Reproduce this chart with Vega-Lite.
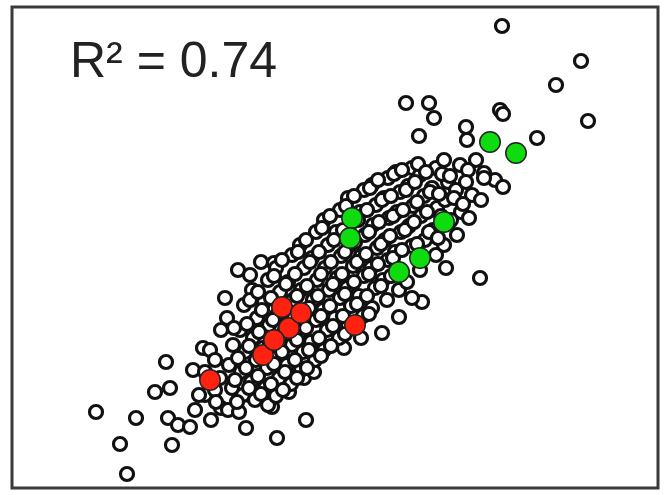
{
  "$schema": "https://vega.github.io/schema/vega-lite/v6.json",
  "width": 646,
  "height": 481,
  "autosize": "none",
  "padding": {"left": 12, "top": 7, "right": 7, "bottom": 7},
  "background": "white",
  "config": {"view": {"stroke": "#3a3a3a", "strokeWidth": 3}},
  "datasets": {
    "pts": [
      {"x": 49.0, "y": 46.2, "g": "gray"}, {"x": 56.9, "y": 42.7, "g": "gray"}, {"x": 54.4, "y": 40.3, "g": "gray"}, {"x": 57.6, "y": 36.7, "g": "gray"},
      {"x": 39.4, "y": 38.5, "g": "gray"}, {"x": 41.7, "y": 38.5, "g": "gray"}, {"x": 42.2, "y": 37.0, "g": "gray"}, {"x": 40.7, "y": 35.2, "g": "gray"},
      {"x": 48.8, "y": 37.8, "g": "gray"}, {"x": 49.1, "y": 37.4, "g": "gray"}, {"x": 45.4, "y": 36.1, "g": "gray"}, {"x": 45.5, "y": 34.8, "g": "gray"},
      {"x": 52.5, "y": 35.0, "g": "gray"}, {"x": 47.2, "y": 31.5, "g": "gray"}, {"x": 48.3, "y": 30.8, "g": "gray"}, {"x": 49.1, "y": 30.1, "g": "gray"},
      {"x": 46.4, "y": 32.8, "g": "gray"}, {"x": 8.4, "y": 7.6, "g": "gray"}, {"x": 12.4, "y": 7.0, "g": "gray"}, {"x": 10.8, "y": 4.4, "g": "gray"},
      {"x": 11.5, "y": 1.4, "g": "gray"}, {"x": 15.4, "y": 12.6, "g": "gray"}, {"x": 14.3, "y": 9.6, "g": "gray"}, {"x": 15.8, "y": 10.0, "g": "gray"},
      {"x": 15.6, "y": 7.0, "g": "gray"}, {"x": 16.6, "y": 6.3, "g": "gray"}, {"x": 17.8, "y": 6.1, "g": "gray"}, {"x": 16.0, "y": 4.3, "g": "gray"},
      {"x": 19.1, "y": 14.0, "g": "gray"}, {"x": 20.9, "y": 8.0, "g": "gray"}, {"x": 23.4, "y": 6.0, "g": "gray"}, {"x": 26.5, "y": 5.0, "g": "gray"},
      {"x": 29.4, "y": 6.8, "g": "gray"}, {"x": 46.8, "y": 21.0, "g": "gray"}, {"x": 43.4, "y": 22.0, "g": "gray"}, {"x": 21.3, "y": 19.0, "g": "gray"},
      {"x": 22.6, "y": 21.8, "g": "gray"}, {"x": 23.8, "y": 21.3, "g": "gray"}, {"x": 24.9, "y": 22.6, "g": "gray"}, {"x": 26.2, "y": 22.5, "g": "gray"},
      {"x": 37.0, "y": 15.5, "g": "gray"}, {"x": 38.7, "y": 17.1, "g": "gray"}, {"x": 41.0, "y": 18.6, "g": "gray"}, {"x": 40.0, "y": 19.0, "g": "gray"},
      {"x": 33.2, "y": 14.0, "g": "gray"}, {"x": 29.2, "y": 11.0, "g": "gray"}, {"x": 30.2, "y": 11.6, "g": "gray"}, {"x": 27.7, "y": 9.6, "g": "gray"},
      {"x": 24.9, "y": 9.0, "g": "gray"}, {"x": 26.0, "y": 8.1, "g": "gray"}, {"x": 23.8, "y": 9.3, "g": "gray"}, {"x": 19.3, "y": 9.3, "g": "gray"},
      {"x": 20.3, "y": 9.8, "g": "gray"},
      {"x": 18.1, "y": 11.8, "g": "gray"}, {"x": 18.7, "y": 9.3, "g": "gray"}, {"x": 18.3, "y": 7.8, "g": "gray"},
      {"x": 19.8, "y": 13.8, "g": "gray"}, {"x": 19.3, "y": 11.6, "g": "gray"}, {"x": 19.9, "y": 6.8, "g": "gray"},
      {"x": 20.9, "y": 15.8, "g": "gray"}, {"x": 20.3, "y": 12.8, "g": "gray"}, {"x": 20.8, "y": 11.0, "g": "gray"}, {"x": 20.4, "y": 8.6, "g": "gray"},
      {"x": 21.5, "y": 17.0, "g": "gray"}, {"x": 22.1, "y": 14.3, "g": "gray"}, {"x": 21.7, "y": 12.3, "g": "gray"}, {"x": 22.0, "y": 10.0, "g": "gray"}, {"x": 21.6, "y": 7.8, "g": "gray"},
      {"x": 23.2, "y": 18.3, "g": "gray"}, {"x": 22.8, "y": 15.8, "g": "gray"}, {"x": 23.3, "y": 13.6, "g": "gray"}, {"x": 22.9, "y": 11.6, "g": "gray"}, {"x": 23.1, "y": 9.3, "g": "gray"}, {"x": 22.7, "y": 7.6, "g": "gray"},
      {"x": 24.0, "y": 19.8, "g": "gray"}, {"x": 24.5, "y": 17.0, "g": "gray"}, {"x": 24.1, "y": 15.0, "g": "gray"}, {"x": 24.4, "y": 12.8, "g": "gray"}, {"x": 23.9, "y": 10.6, "g": "gray"}, {"x": 24.3, "y": 8.8, "g": "gray"},
      {"x": 25.6, "y": 20.8, "g": "gray"}, {"x": 25.2, "y": 18.6, "g": "gray"}, {"x": 25.7, "y": 16.3, "g": "gray"}, {"x": 25.1, "y": 14.0, "g": "gray"}, {"x": 25.5, "y": 12.0, "g": "gray"}, {"x": 25.3, "y": 10.0, "g": "gray"}, {"x": 25.6, "y": 8.3, "g": "gray"},
      {"x": 26.4, "y": 22.0, "g": "gray"}, {"x": 26.8, "y": 19.6, "g": "gray"}, {"x": 26.5, "y": 17.3, "g": "gray"}, {"x": 26.9, "y": 15.2, "g": "gray"}, {"x": 26.3, "y": 13.0, "g": "gray"}, {"x": 26.7, "y": 11.0, "g": "gray"}, {"x": 26.4, "y": 9.2, "g": "gray"},
      {"x": 28.0, "y": 23.3, "g": "gray"}, {"x": 27.6, "y": 20.6, "g": "gray"}, {"x": 28.1, "y": 18.8, "g": "gray"}, {"x": 27.7, "y": 16.6, "g": "gray"}, {"x": 28.0, "y": 14.3, "g": "gray"}, {"x": 27.5, "y": 12.3, "g": "gray"}, {"x": 27.9, "y": 10.4, "g": "gray"},
      {"x": 28.8, "y": 24.3, "g": "gray"}, {"x": 29.2, "y": 22.0, "g": "gray"}, {"x": 28.9, "y": 19.8, "g": "gray"}, {"x": 29.3, "y": 17.6, "g": "gray"}, {"x": 28.7, "y": 15.4, "g": "gray"}, {"x": 29.1, "y": 13.6, "g": "gray"}, {"x": 28.9, "y": 11.8, "g": "gray"},
      {"x": 30.4, "y": 25.6, "g": "gray"}, {"x": 30.0, "y": 23.0, "g": "gray"}, {"x": 30.5, "y": 20.8, "g": "gray"}, {"x": 30.1, "y": 18.8, "g": "gray"}, {"x": 30.4, "y": 16.8, "g": "gray"}, {"x": 29.9, "y": 14.6, "g": "gray"}, {"x": 30.3, "y": 12.8, "g": "gray"},
      {"x": 31.2, "y": 26.8, "g": "gray"}, {"x": 31.6, "y": 24.3, "g": "gray"}, {"x": 31.3, "y": 22.0, "g": "gray"}, {"x": 31.7, "y": 19.8, "g": "gray"}, {"x": 31.1, "y": 17.8, "g": "gray"}, {"x": 31.5, "y": 15.8, "g": "gray"}, {"x": 31.2, "y": 13.8, "g": "gray"},
      {"x": 32.8, "y": 27.8, "g": "gray"}, {"x": 32.4, "y": 25.6, "g": "gray"}, {"x": 32.9, "y": 23.2, "g": "gray"}, {"x": 32.5, "y": 21.0, "g": "gray"}, {"x": 32.8, "y": 19.0, "g": "gray"}, {"x": 32.3, "y": 17.0, "g": "gray"}, {"x": 32.7, "y": 15.0, "g": "gray"},
      {"x": 33.6, "y": 29.0, "g": "gray"}, {"x": 34.0, "y": 26.6, "g": "gray"}, {"x": 33.7, "y": 24.2, "g": "gray"}, {"x": 34.1, "y": 22.2, "g": "gray"}, {"x": 33.5, "y": 20.0, "g": "gray"}, {"x": 33.9, "y": 18.2, "g": "gray"}, {"x": 33.6, "y": 16.2, "g": "gray"},
      {"x": 35.2, "y": 29.8, "g": "gray"}, {"x": 34.8, "y": 27.6, "g": "gray"}, {"x": 35.3, "y": 25.3, "g": "gray"}, {"x": 34.9, "y": 23.2, "g": "gray"}, {"x": 35.2, "y": 21.2, "g": "gray"}, {"x": 34.7, "y": 19.2, "g": "gray"}, {"x": 35.1, "y": 17.2, "g": "gray"}, {"x": 34.9, "y": 15.0, "g": "gray"},
      {"x": 36.0, "y": 30.3, "g": "gray"}, {"x": 36.4, "y": 28.3, "g": "gray"}, {"x": 36.1, "y": 26.3, "g": "gray"}, {"x": 36.5, "y": 24.0, "g": "gray"}, {"x": 35.9, "y": 22.0, "g": "gray"}, {"x": 36.3, "y": 20.0, "g": "gray"}, {"x": 36.0, "y": 18.0, "g": "gray"},
      {"x": 37.6, "y": 31.0, "g": "gray"}, {"x": 37.2, "y": 29.0, "g": "gray"}, {"x": 37.7, "y": 27.0, "g": "gray"}, {"x": 37.3, "y": 24.8, "g": "gray"}, {"x": 37.6, "y": 22.8, "g": "gray"}, {"x": 37.1, "y": 20.8, "g": "gray"}, {"x": 37.5, "y": 18.8, "g": "gray"},
      {"x": 38.4, "y": 31.6, "g": "gray"}, {"x": 38.8, "y": 29.6, "g": "gray"}, {"x": 38.5, "y": 27.6, "g": "gray"}, {"x": 38.9, "y": 25.6, "g": "gray"}, {"x": 38.3, "y": 23.6, "g": "gray"}, {"x": 38.7, "y": 19.8, "g": "gray"},
      {"x": 40.0, "y": 32.0, "g": "gray"}, {"x": 39.6, "y": 30.2, "g": "gray"}, {"x": 40.1, "y": 28.2, "g": "gray"}, {"x": 39.7, "y": 26.2, "g": "gray"}, {"x": 40.0, "y": 24.2, "g": "gray"}, {"x": 39.5, "y": 20.6, "g": "gray"},
      {"x": 40.8, "y": 31.3, "g": "gray"}, {"x": 41.2, "y": 29.2, "g": "gray"}, {"x": 40.9, "y": 27.2, "g": "gray"}, {"x": 41.3, "y": 24.8, "g": "gray"}, {"x": 40.8, "y": 21.8, "g": "gray"},
      {"x": 42.4, "y": 32.0, "g": "gray"}, {"x": 42.0, "y": 30.0, "g": "gray"}, {"x": 42.5, "y": 28.0, "g": "gray"}, {"x": 42.1, "y": 25.8, "g": "gray"}, {"x": 42.4, "y": 23.3, "g": "gray"},
      {"x": 43.2, "y": 32.8, "g": "gray"}, {"x": 43.6, "y": 30.6, "g": "gray"}, {"x": 43.3, "y": 28.8, "g": "gray"}, {"x": 43.7, "y": 26.6, "g": "gray"}, {"x": 43.2, "y": 24.3, "g": "gray"},
      {"x": 44.8, "y": 32.3, "g": "gray"}, {"x": 44.4, "y": 29.8, "g": "gray"}, {"x": 44.9, "y": 27.6, "g": "gray"}, {"x": 44.5, "y": 25.3, "g": "gray"},
      {"x": 45.6, "y": 31.8, "g": "gray"}, {"x": 46.0, "y": 29.3, "g": "gray"}, {"x": 45.7, "y": 27.0, "g": "gray"},
      {"x": 47.2, "y": 31.0, "g": "gray"}, {"x": 46.9, "y": 28.8, "g": "gray"},
      {"x": 22.2, "y": 16.0, "g": "gray"}, {"x": 22.6, "y": 13.0, "g": "gray"}, {"x": 22.3, "y": 10.8, "g": "gray"}, {"x": 22.5, "y": 8.6, "g": "gray"},
      {"x": 23.8, "y": 18.8, "g": "gray"}, {"x": 23.5, "y": 16.4, "g": "gray"}, {"x": 23.7, "y": 14.2, "g": "gray"}, {"x": 23.4, "y": 12.0, "g": "gray"}, {"x": 23.7, "y": 10.0, "g": "gray"},
      {"x": 24.6, "y": 19.6, "g": "gray"}, {"x": 25.0, "y": 17.8, "g": "gray"}, {"x": 24.7, "y": 15.6, "g": "gray"}, {"x": 25.0, "y": 13.4, "g": "gray"}, {"x": 24.6, "y": 11.2, "g": "gray"}, {"x": 24.9, "y": 9.4, "g": "gray"},
      {"x": 26.2, "y": 21.2, "g": "gray"}, {"x": 25.9, "y": 19.0, "g": "gray"}, {"x": 26.1, "y": 16.8, "g": "gray"}, {"x": 25.8, "y": 14.4, "g": "gray"}, {"x": 26.2, "y": 12.4, "g": "gray"}, {"x": 25.9, "y": 10.4, "g": "gray"},
      {"x": 27.0, "y": 22.8, "g": "gray"}, {"x": 27.4, "y": 20.4, "g": "gray"}, {"x": 27.1, "y": 18.0, "g": "gray"}, {"x": 27.3, "y": 15.8, "g": "gray"}, {"x": 27.0, "y": 13.6, "g": "gray"}, {"x": 27.3, "y": 11.6, "g": "gray"}, {"x": 27.1, "y": 9.8, "g": "gray"},
      {"x": 28.6, "y": 23.6, "g": "gray"}, {"x": 28.3, "y": 21.4, "g": "gray"}, {"x": 28.5, "y": 19.2, "g": "gray"}, {"x": 28.2, "y": 17.0, "g": "gray"}, {"x": 28.5, "y": 14.8, "g": "gray"}, {"x": 28.3, "y": 12.8, "g": "gray"}, {"x": 28.5, "y": 11.0, "g": "gray"},
      {"x": 29.4, "y": 24.8, "g": "gray"}, {"x": 29.8, "y": 22.6, "g": "gray"}, {"x": 29.5, "y": 20.2, "g": "gray"}, {"x": 29.7, "y": 18.0, "g": "gray"}, {"x": 29.4, "y": 16.0, "g": "gray"}, {"x": 29.7, "y": 13.8, "g": "gray"}, {"x": 29.5, "y": 12.0, "g": "gray"},
      {"x": 31.0, "y": 26.0, "g": "gray"}, {"x": 30.7, "y": 23.6, "g": "gray"}, {"x": 30.9, "y": 21.4, "g": "gray"}, {"x": 30.6, "y": 19.2, "g": "gray"}, {"x": 30.9, "y": 17.2, "g": "gray"}, {"x": 30.7, "y": 15.0, "g": "gray"}, {"x": 30.9, "y": 13.2, "g": "gray"},
      {"x": 31.8, "y": 27.2, "g": "gray"}, {"x": 32.2, "y": 24.8, "g": "gray"}, {"x": 31.9, "y": 22.6, "g": "gray"}, {"x": 32.1, "y": 20.4, "g": "gray"}, {"x": 31.8, "y": 18.2, "g": "gray"}, {"x": 32.1, "y": 16.2, "g": "gray"}, {"x": 31.9, "y": 14.2, "g": "gray"},
      {"x": 33.4, "y": 28.2, "g": "gray"}, {"x": 33.1, "y": 25.8, "g": "gray"}, {"x": 33.3, "y": 23.6, "g": "gray"}, {"x": 33.0, "y": 21.4, "g": "gray"}, {"x": 33.3, "y": 19.4, "g": "gray"}, {"x": 33.1, "y": 17.2, "g": "gray"}, {"x": 33.3, "y": 15.4, "g": "gray"},
      {"x": 34.2, "y": 29.2, "g": "gray"}, {"x": 34.6, "y": 26.8, "g": "gray"}, {"x": 34.3, "y": 24.6, "g": "gray"}, {"x": 34.5, "y": 22.6, "g": "gray"}, {"x": 34.2, "y": 20.6, "g": "gray"}, {"x": 34.5, "y": 18.4, "g": "gray"}, {"x": 34.3, "y": 16.4, "g": "gray"},
      {"x": 35.8, "y": 30.0, "g": "gray"}, {"x": 35.5, "y": 27.8, "g": "gray"}, {"x": 35.7, "y": 25.6, "g": "gray"}, {"x": 35.4, "y": 23.4, "g": "gray"}, {"x": 35.7, "y": 21.4, "g": "gray"}, {"x": 35.5, "y": 19.2, "g": "gray"}, {"x": 35.7, "y": 17.4, "g": "gray"},
      {"x": 36.6, "y": 30.8, "g": "gray"}, {"x": 37.0, "y": 28.8, "g": "gray"}, {"x": 36.7, "y": 26.6, "g": "gray"}, {"x": 36.9, "y": 24.4, "g": "gray"}, {"x": 36.6, "y": 22.4, "g": "gray"}, {"x": 36.9, "y": 20.2, "g": "gray"},
      {"x": 38.2, "y": 31.4, "g": "gray"}, {"x": 37.9, "y": 29.2, "g": "gray"}, {"x": 38.1, "y": 27.2, "g": "gray"}, {"x": 37.8, "y": 25.2, "g": "gray"}, {"x": 38.1, "y": 23.0, "g": "gray"}, {"x": 37.9, "y": 21.2, "g": "gray"},
      {"x": 39.0, "y": 31.8, "g": "gray"}, {"x": 39.4, "y": 29.8, "g": "gray"}, {"x": 39.1, "y": 27.8, "g": "gray"}, {"x": 39.3, "y": 25.8, "g": "gray"}, {"x": 39.0, "y": 23.8, "g": "gray"},
      {"x": 40.6, "y": 32.4, "g": "gray"}, {"x": 40.3, "y": 30.6, "g": "gray"}, {"x": 40.5, "y": 28.6, "g": "gray"}, {"x": 40.2, "y": 26.6, "g": "gray"}, {"x": 40.5, "y": 24.4, "g": "gray"},
      {"x": 41.4, "y": 31.6, "g": "gray"}, {"x": 41.8, "y": 29.6, "g": "gray"}, {"x": 41.5, "y": 27.6, "g": "gray"}, {"x": 41.7, "y": 25.6, "g": "gray"},
      {"x": 43.0, "y": 31.4, "g": "gray"}, {"x": 42.7, "y": 29.4, "g": "gray"}, {"x": 42.9, "y": 27.2, "g": "gray"}, {"x": 42.6, "y": 25.0, "g": "gray"},
      {"x": 43.8, "y": 31.2, "g": "gray"}, {"x": 44.2, "y": 29.0, "g": "gray"}, {"x": 43.9, "y": 26.8, "g": "gray"},
      {"x": 45.4, "y": 30.6, "g": "gray"}, {"x": 45.1, "y": 28.4, "g": "gray"},
      {"x": 34.0, "y": 27.0, "g": "green"}, {"x": 33.8, "y": 25.0, "g": "green"}, {"x": 43.2, "y": 26.6, "g": "green"}, {"x": 40.8, "y": 23.0, "g": "green"},
      {"x": 38.7, "y": 21.6, "g": "green"}, {"x": 47.8, "y": 34.6, "g": "green"}, {"x": 50.4, "y": 33.5, "g": "green"},
      {"x": 19.8, "y": 10.8, "g": "red"}, {"x": 25.1, "y": 13.3, "g": "red"}, {"x": 27.7, "y": 16.0, "g": "red"}, {"x": 27.0, "y": 18.1, "g": "red"},
      {"x": 28.9, "y": 17.5, "g": "red"}, {"x": 34.3, "y": 16.3, "g": "red"}, {"x": 26.2, "y": 14.8, "g": "red"}
    ],
    "note": [{"x": 5.8, "y": 41.1, "label": "R² = 0.74"}]
  },
  "layer": [
    {
      "data": {"name": "pts"},
      "transform": [{"filter": "datum.g === 'gray'"}],
      "mark": {"type": "point", "shape": "circle", "filled": true, "fill": "white", "stroke": "#111111", "strokeWidth": 3.2, "size": 170, "opacity": 1},
      "encoding": {
        "x": {"field": "x", "type": "quantitative", "scale": {"domain": [0, 64.6], "nice": false, "zero": false}, "axis": null},
        "y": {"field": "y", "type": "quantitative", "scale": {"domain": [0, 48.1], "nice": false, "zero": false}, "axis": null}
      }
    },
    {
      "data": {"name": "pts"},
      "transform": [{"filter": "datum.g !== 'gray'"}],
      "mark": {"type": "point", "shape": "circle", "filled": true, "stroke": "#222222", "strokeWidth": 1.5, "size": 420, "opacity": 1},
      "encoding": {
        "x": {"field": "x", "type": "quantitative", "axis": null},
        "y": {"field": "y", "type": "quantitative", "axis": null},
        "fill": {"field": "g", "type": "nominal", "scale": {"domain": ["green", "red"], "range": ["#0fdc0f", "#ff2210"]}, "legend": null}
      }
    },
    {
      "data": {"name": "note"},
      "mark": {"type": "text", "align": "left", "baseline": "alphabetic", "font": "Liberation Sans", "fontSize": 50, "color": "#222222"},
      "encoding": {
        "x": {"field": "x", "type": "quantitative", "axis": null},
        "y": {"field": "y", "type": "quantitative", "axis": null},
        "text": {"field": "label"}
      }
    }
  ]
}
